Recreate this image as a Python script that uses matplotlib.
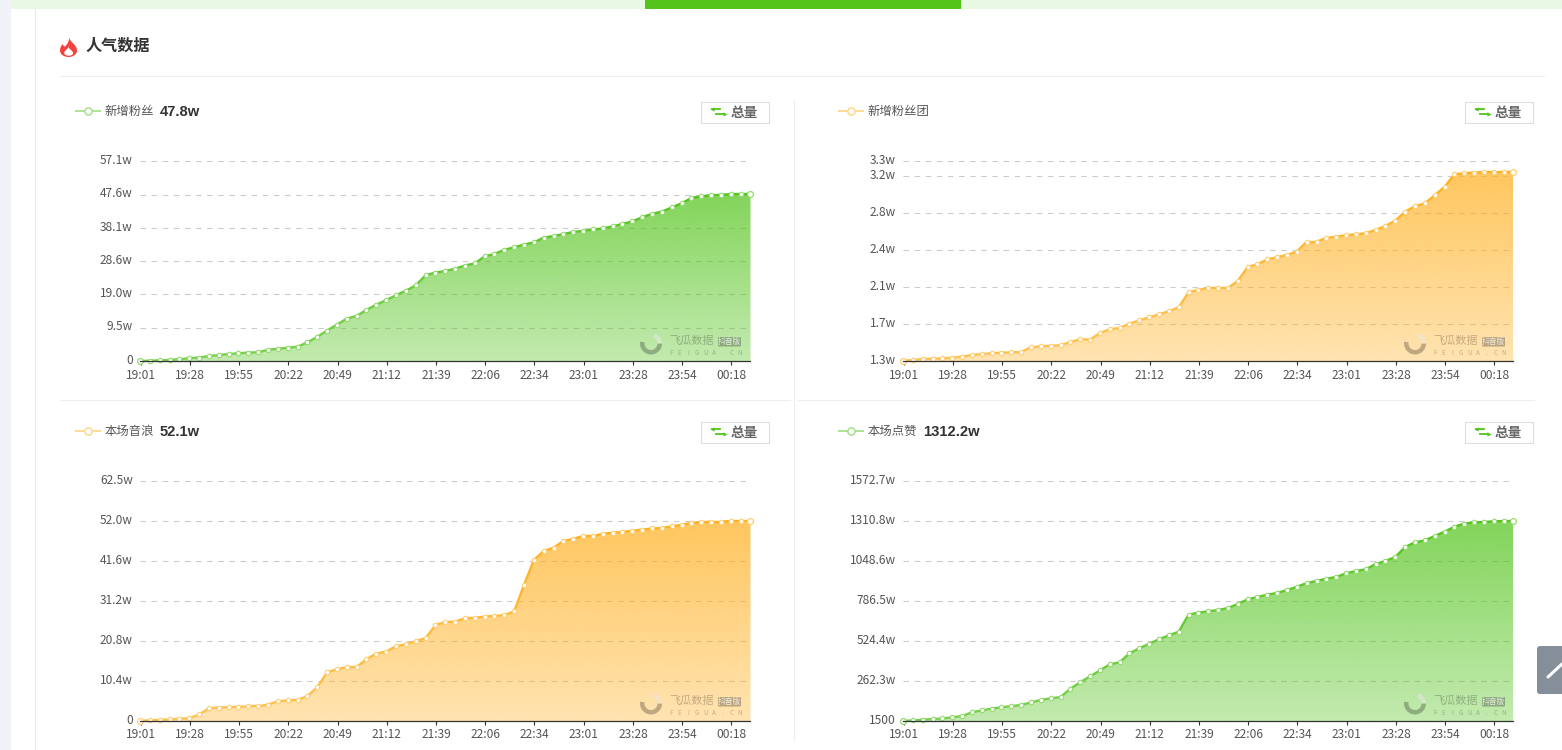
#!/usr/bin/env python3
"""Popularity dashboard: four cumulative area charts on a page card."""

import numpy as np
import matplotlib
matplotlib.use("Agg")
import matplotlib.pyplot as plt
from matplotlib.collections import LineCollection
from matplotlib.colors import to_rgb
from matplotlib.patches import FancyBboxPatch, PathPatch, Rectangle, Wedge
from matplotlib.path import Path
from matplotlib.transforms import ScaledTranslation

plt.rcParams["font.family"] = ["Noto Sans CJK SC", "DejaVu Sans"]

W, H = 1562, 750

TIME_LABELS = ["19:01", "19:28", "19:55", "20:22", "20:49", "21:12", "21:39",
               "22:06", "22:34", "23:01", "23:28", "23:54", "00:18"]

FANS = [0.0, 0.1, 0.2, 0.3, 0.5, 0.8, 1.0, 1.4, 1.7, 2.0, 2.2, 2.4, 2.5, 3.2, 3.5, 3.8,
        4.1, 5.3, 6.9, 8.7, 10.4, 12.1, 12.9, 14.6, 16.1, 17.4, 18.8, 20.1, 21.6, 24.5, 25.3,
        25.7, 26.4, 27.3, 27.9, 29.9, 30.6, 31.8, 32.5, 33.3, 33.9, 35.3, 35.7, 36.3, 36.9, 37.2,
        37.6, 37.9, 38.5, 39.2, 39.9, 41.1, 42.1, 42.7, 43.9, 45.1, 46.6, 47.1, 47.4, 47.5, 47.7,
        47.7, 47.8]
FANS_TICKS = [0, 9.52, 19.03, 28.55, 38.07, 47.58, 57.1]
FANS_LABELS = ["0", "9.5w", "19.0w", "28.6w", "38.1w", "47.6w", "57.1w"]

CLUB = [1.303, 1.310, 1.321, 1.324, 1.327, 1.334, 1.345, 1.362, 1.372, 1.379, 1.386, 1.389,
        1.393, 1.441, 1.451, 1.458, 1.461, 1.496, 1.523, 1.520, 1.588, 1.626, 1.640, 1.684,
        1.718, 1.749, 1.780, 1.811, 1.852, 2.007, 2.031, 2.051, 2.051, 2.051, 2.123, 2.267,
        2.295, 2.346, 2.367, 2.391, 2.425, 2.528, 2.528, 2.566, 2.579, 2.593, 2.603, 2.614,
        2.648, 2.689, 2.744, 2.837, 2.892, 2.922, 3.005, 3.090, 3.221, 3.231, 3.238, 3.241,
        3.241, 3.245, 3.245]
CLUB_TICKS = [1.3, 1.68, 2.06, 2.44, 2.82, 3.2, 3.354]
CLUB_LABELS = ["1.3w", "1.7w", "2.1w", "2.4w", "2.8w", "3.2w", "3.3w"]

SOUND = [0.0, 0.2, 0.3, 0.4, 0.6, 0.7, 1.7, 3.3, 3.5, 3.6, 3.7, 3.8, 3.8, 4.3, 5.1, 5.4,
         5.5, 6.5, 8.8, 12.7, 13.5, 14.0, 14.1, 16.1, 17.6, 18.1, 19.5, 20.0, 20.8, 21.6, 25.0,
         25.8, 25.9, 26.8, 26.9, 27.2, 27.4, 27.6, 28.6, 35.5, 42.0, 44.3, 45.2, 46.9, 47.5, 48.2,
         48.2, 48.8, 49.1, 49.3, 49.6, 49.9, 50.2, 50.3, 50.8, 51.1, 51.7, 51.8, 52.0, 52.0, 52.1,
         52.1, 52.1]
SOUND_TICKS = [0, 10.42, 20.83, 31.25, 41.67, 52.08, 62.5]
SOUND_LABELS = ["0", "10.4w", "20.8w", "31.2w", "41.6w", "52.0w", "62.5w"]

LIKES = [0.15, 4, 9, 13, 17, 24, 33, 57, 70, 81, 90, 98, 105, 122, 138, 149,
         157, 212, 254, 293, 332, 372, 385, 444, 477, 507, 536, 562, 586, 698, 711,
         720, 728, 741, 768, 798, 814, 829, 840, 859, 881, 905, 919, 934, 945, 969,
         984, 995, 1030, 1050, 1076, 1142, 1172, 1185, 1214, 1242, 1275, 1295, 1303, 1306, 1310,
         1312, 1312.2]
LIKES_TICKS = [0.15, 262.3, 524.4, 786.5, 1048.6, 1310.8, 1572.7]
LIKES_LABELS = ["1500", "262.3w", "524.4w", "786.5w", "1048.6w", "1310.8w", "1572.7w"]

GREEN = "#52c41a"
ORANGE = "#ffb01f"
WATERMARK_LETTERS = "FEIGUA.CN"

fig = plt.figure(figsize=(W / 100, H / 100), dpi=100, facecolor="white")


def px_axes(left, top, right, bottom, **kw):
    return fig.add_axes([left / W, 1 - bottom / H, (right - left) / W, (bottom - top) / H], **kw)


def mix(color, amount):
    """Blend a colour toward white; amount is the share of the colour kept."""
    rgb = np.array(to_rgb(color))
    return tuple(1 - (1 - rgb) * amount)


def area_chart(left, top, bottom, values, ticks, labels, color):
    ax = px_axes(left, top, left + 610.5, bottom, facecolor="none")
    x = np.arange(len(values))
    y = np.array(values)

    # gradient area, clipped to the series outline
    grad = np.zeros((256, 1, 4))
    grad[..., :3] = to_rgb(color)
    grad[:, 0, 3] = np.linspace(0.72, 0.35, 256)
    poly = ax.fill_between(x, y, ticks[0], facecolor="none", edgecolor="none")
    img = ax.imshow(grad, extent=[x[0], x[-1], ticks[0], y.max()], aspect="auto", zorder=2,
                    interpolation="bilinear")
    img.set_clip_path(poly.get_paths()[0], transform=ax.transData)

    # line goes paler toward the baseline
    pts = np.column_stack([x, y])
    segs = np.stack([pts[:-1], pts[1:]], axis=1)
    frac = (y[:-1] + y[1:]) / 2
    frac = (frac - ticks[0]) / (y.max() - ticks[0])
    seg_colors = [mix(color, 0.78 + 0.22 * f) for f in frac]
    ax.add_collection(LineCollection(segs, colors=seg_colors, linewidths=1.7, zorder=3,
                                     capstyle="round"))

    edge = mix(color, 0.62)
    ax.plot(x, y, ls="none", marker="o", ms=3.2, mfc="white", mec=edge, mew=0.8, zorder=4,
            clip_on=False)
    ax.plot(x[[0, -1]], y[[0, -1]], ls="none", marker="o", ms=4.2, mfc="white", mec=edge, mew=0.9,
            zorder=4, clip_on=False)

    ax.set_xlim(x[0], x[-1])
    ax.set_ylim(ticks[0], ticks[-1])
    ax.set_xticks(x[::5] + 0.06)
    ax.set_xticklabels(TIME_LABELS)
    ax.set_yticks(ticks)
    ax.set_yticklabels(labels)
    ax.tick_params(axis="x", length=3, width=0.8, color="#333333", pad=2.4, labelsize=8.6,
                   labelcolor="#555555")
    ax.tick_params(axis="y", length=0, pad=5.2, labelsize=8.6, labelcolor="#555555")
    # y labels sit a little above their gridlines
    shift = ScaledTranslation(0, 1.6 / 72, fig.dpi_scale_trans)
    for lab in ax.get_yticklabels():
        lab.set_transform(lab.get_transform() + shift)
    ax.yaxis.grid(True, color="#cccccc", linewidth=0.8, dashes=(5, 5))
    ax.xaxis.grid(False)
    ax.set_axisbelow(True)
    for side in ["top", "left", "right"]:
        ax.spines[side].set_visible(False)
    ax.spines["bottom"].set_color("#333333")
    ax.spines["bottom"].set_linewidth(0.9)
    ax.spines["bottom"].set_zorder(5)
    return ax


area_chart(140, 161.3, 361, FANS, FANS_TICKS, FANS_LABELS, GREEN)
area_chart(903, 161.3, 361, CLUB, CLUB_TICKS, CLUB_LABELS, ORANGE)
area_chart(140, 481.3, 721, SOUND, SOUND_TICKS, SOUND_LABELS, ORANGE)
area_chart(903, 481.3, 721, LIKES, LIKES_TICKS, LIKES_LABELS, GREEN)

# page furniture, drawn in pixel coordinates
page = fig.add_axes([0, 0, 1, 1], facecolor="none", zorder=10)
page.set_xlim(0, W)
page.set_ylim(H, 0)
page.axis("off")

page.add_patch(Rectangle((0, 0), 11, H, fc="#f0f2f7", ec="none"))
page.add_patch(Rectangle((11, 0), W - 11, 9, fc="#e9f8e3", ec="none"))
page.add_patch(Rectangle((645, 0), 316, 9, fc=GREEN, ec="none"))
page.plot([35, 35], [9, H], color="#ececec", lw=0.8)
page.plot([60, 1544], [76, 76], color="#eeeeee", lw=0.8)
page.plot([794, 794], [100, 740], color="#eeeeee", lw=0.8)
page.plot([60, 790], [400, 400], color="#eeeeee", lw=0.8)
page.plot([798, 1534], [400, 400], color="#eeeeee", lw=0.8)

# flame
flame = Path(
    [(69, 37), (69.5, 42), (77, 44.5), (77, 50.5), (77, 54.5), (73, 57), (68.5, 57),
     (64, 57), (60, 54.5), (60, 50.5), (60, 47.5), (61.5, 45.5), (62.5, 44), (63, 45.5), (64, 46.5), (65, 46.5),
     (67.5, 44), (69.5, 41), (69, 37), (69, 37)],
    [Path.MOVETO, Path.CURVE4, Path.CURVE4, Path.CURVE4, Path.CURVE4, Path.CURVE4, Path.CURVE4,
     Path.CURVE4, Path.CURVE4, Path.CURVE4, Path.CURVE4, Path.CURVE4, Path.CURVE4, Path.CURVE4,
     Path.CURVE4, Path.CURVE4, Path.CURVE4, Path.CURVE4, Path.CURVE4, Path.CLOSEPOLY])
page.add_patch(PathPatch(flame, fc="#f4433f", ec="none"))
inner = Path(
    [(68.5, 46.5), (68.5, 49.5), (73.5, 50.5), (73, 53.5), (72.5, 56.5), (65, 56.5), (64.3, 53.5),
     (63.8, 50.5), (67.5, 50), (68.5, 46.5)],
    [Path.MOVETO] + [Path.CURVE4] * 9)
page.add_patch(PathPatch(inner, fc="white", ec="none"))
page.text(86, 45.5, "人气数据", fontsize=11.6, fontweight="bold", color="#333333", va="center")


def header(left, right, y, name, total, color):
    page.plot([left, left + 26], [y, y], color=mix(color, 0.55), lw=1.2, solid_capstyle="butt")
    page.plot([left + 13], [y], marker="o", ms=5.2, mfc="white", mec=mix(color, 0.55), mew=1)
    page.text(left + 30, y + 0.5, name, fontsize=8.9, color="#555555", va="center")
    if total:
        page.text(left + 85, y + 1, total, fontsize=10.6, fontweight="bold", color="#333333",
                  va="center", family="Liberation Sans")
    # toggle button
    bx = right - 70
    page.add_patch(Rectangle((bx + 0.5, y - 9.5), 68, 21, fc="white", ec="#dddddd", lw=0.8))
    page.plot([bx + 12, bx + 20], [y - 2, y - 2], color=GREEN, lw=1.3)
    page.plot([bx + 11.5], [y - 2], marker="<", ms=3, color=GREEN, mew=0)
    page.plot([bx + 16, bx + 24], [y + 3, y + 3], color=GREEN, lw=1.3)
    page.plot([bx + 24.5], [y + 3], marker=">", ms=3, color=GREEN, mew=0)
    page.text(bx + 31, y + 1.5, "总量", fontsize=9.8, fontweight="bold", color="#666666", va="center")


header(75, 770, 111, "新增粉丝", "47.8w", GREEN)
header(838, 1534, 111, "新增粉丝团", "", ORANGE)
header(75, 770, 431, "本场音浪", "52.1w", ORANGE)
header(838, 1534, 431, "本场点赞", "1312.2w", GREEN)


def watermark(cx, cy):
    # y is flipped on this axes, so angles run clockwise on screen
    page.add_patch(Wedge((cx, cy), 11, 0, 190, width=4.5, fc="#000000", alpha=0.25, ec="none"))
    page.add_patch(Wedge((cx, cy), 11, 290, 360, width=4.5, fc="#e8e8e8", alpha=0.5, ec="none"))
    page.text(cx + 18, cy - 2.5, "飞瓜数据", fontsize=8, color="#000000", alpha=0.24, va="center")
    page.add_patch(FancyBboxPatch((cx + 67, cy - 6.5), 23, 9.5, boxstyle="round,pad=0,rounding_size=1",
                                  fc="#000000", alpha=0.27, ec="none"))
    page.text(cx + 78.5, cy - 2, "抖音版", fontsize=5.6, color="#ffffff", alpha=0.8,
              ha="center", va="center")
    for i, ch in enumerate(WATERMARK_LETTERS):
        page.text(cx + 20 + i * 8.6, cy + 9.5, ch, fontsize=4.6, color="#000000", alpha=0.22,
                  ha="center", va="center")


watermark(651, 343.5)
watermark(1415, 343.5)
watermark(651, 703.5)
watermark(1415, 703.5)

# back-to-top tab
page.add_patch(FancyBboxPatch((1537, 646), 40, 48, boxstyle="round,pad=0,rounding_size=3",
                              fc="#858e99", ec="none", clip_on=True))
page.plot([1548, 1562], [677, 664], color="white", lw=2.2, solid_capstyle="round")

fig.savefig("out.png", dpi=100)
